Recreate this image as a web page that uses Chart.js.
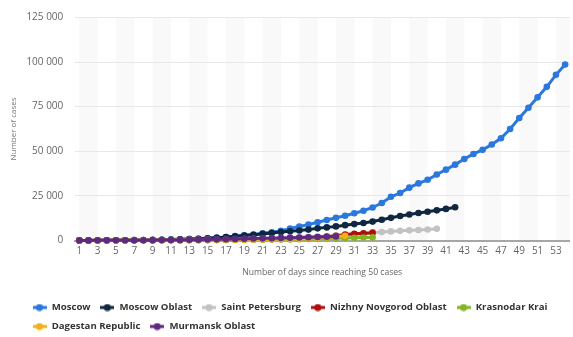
<!DOCTYPE html>
<html>
<head>
<meta charset="utf-8">
<title>Coronavirus cases in Russia by region</title>
<script src="https://cdn.jsdelivr.net/npm/chart.js@4.4.1/dist/chart.umd.min.js"></script>
<style>
  html, body { margin: 0; padding: 0; background: #fff; }
  #wrap { width: 573px; height: 337px; }
</style>
</head>
<body>
<div id="wrap"><canvas id="chart" width="573" height="337"></canvas></div>
<script>
// days since the region reached 50 cases
const days = [1, 2, 3, 4, 5, 6, 7, 8, 9, 10, 11, 12, 13, 14, 15, 16, 17, 18,
  19, 20, 21, 22, 23, 24, 25, 26, 27, 28, 29, 30, 31, 32, 33, 34, 35, 36,
  37, 38, 39, 40, 41, 42, 43, 44, 45, 46, 47, 48, 49, 50, 51, 52, 53, 54];

const yTicks = [0, 25000, 50000, 75000, 100000, 125000];

const moscow = [53, 63, 86, 98, 131, 137, 191, 262, 290, 410, 546, 703, 817,
  1014, 1226, 1613, 1880, 2475, 2900, 3400, 4000, 4600, 5400, 6700, 7800,
  8900, 10200, 11500, 12700, 13900, 15300, 16700, 18500, 21000, 24500, 26600,
  29600, 32000, 34000, 37000, 39700, 42500, 45700, 48500, 50800, 53800, 57300,
  62500, 68600, 74400, 80200, 86100, 92800, 98600];
const moscowOblast = [50, 60, 80, 100, 130, 160, 200, 260, 330, 420, 520, 650,
  800, 1000, 1250, 1550, 1900, 2300, 2750, 3200, 3700, 4200, 4700, 5200, 5600,
  6100, 6800, 7350, 7900, 8600, 9200, 9800, 10600, 11600, 12700, 13700, 14600,
  15400, 16100, 16900, 17700, 18600];
const saintPetersburg = [50, 60, 70, 80, 90, 100, 120, 140, 160, 180, 230, 300,
  380, 410, 470, 560, 600, 690, 780, 930, 1060, 1200, 1350, 1550, 1790, 1940,
  2200, 2480, 2720, 3000, 3300, 3550, 4300, 4700, 5100, 5400, 5700, 5900, 6200,
  6600];
const nizhnyNovgorod = [50, 55, 62, 70, 80, 92, 105, 120, 138, 158, 180, 205,
  235, 270, 310, 355, 405, 460, 525, 600, 690, 790, 900, 1020, 1200, 1450, 1750,
  2100, 2600, 3300, 3800, 4100, 4400];
const krasnodar = [50, 55, 60, 66, 73, 81, 90, 100, 112, 125, 140, 157, 176,
  198, 222, 250, 281, 316, 355, 400, 450, 505, 565, 630, 700, 800, 950, 1100,
  1300, 1450, 1550, 1650, 1750];
const dagestan = [50, 55, 62, 70, 80, 90, 100, 115, 130, 150, 170, 190, 215,
  240, 270, 300, 340, 380, 430, 480, 560, 650, 750, 870, 1000, 1200, 1450, 1750,
  2100, 2600];
const murmansk = [50, 60, 75, 90, 110, 130, 150, 180, 210, 250, 290, 340, 400,
  470, 550, 640, 740, 850, 960, 1080, 1200, 1330, 1460, 1590, 1720, 1850, 1980,
  2100, 2250];

const seriesNames = ['Moscow', 'Moscow Oblast', 'Saint Petersburg',
  'Nizhny Novgorod Oblast', 'Krasnodar Krai', 'Dagestan Republic', 'Murmansk Oblast'];
const seriesData = [moscow, moscowOblast, saintPetersburg, nizhnyNovgorod,
  krasnodar, dagestan, murmansk];
const colors = ['#2a78de', '#0f2740', '#c2c2c2', '#b20d0d', '#82b51f', '#f0b11c', '#5e2a80'];

const FONT = "'Open Sans', 'DejaVu Sans', sans-serif";

// small line + dot used as the legend symbol
const makeIcon = (color) => {
  const c = document.createElement('canvas');
  c.width = 14;
  c.height = 8;
  const g = c.getContext('2d');
  g.strokeStyle = color;
  g.lineWidth = 3;
  g.beginPath();
  g.moveTo(0, 4);
  g.lineTo(14, 4);
  g.stroke();
  g.fillStyle = color;
  g.beginPath();
  g.arc(7, 4, 3.6, 0, Math.PI * 2);
  g.fill();
  return c;
};
const icons = colors.map(makeIcon);

const fmt = (v) => String(v).replace(/\B(?=(\d{3})+(?!\d))/g, ' ');

// alternate light bands between every other labelled tick
const bands = {
  id: 'bands',
  beforeDraw(chart) {
    const {ctx, chartArea: a, scales: {x}} = chart;
    ctx.save();
    ctx.beginPath();
    ctx.rect(a.left, a.top, a.right - a.left, a.bottom - a.top);
    ctx.clip();
    ctx.fillStyle = '#f9f9f9';
    for (let i = 0; i < days.length; i += 4) {
      const x0 = x.getPixelForValue(i);
      const x1 = x.getPixelForValue(i + 2);
      ctx.fillRect(x0, a.top, x1 - x0, a.bottom - a.top);
    }
    ctx.restore();
  }
};

// legend sits further left than the chart area
const legendPlace = {
  id: 'legendPlace',
  afterLayout(chart) {
    chart.legend.left = 22.7;
    chart.legend.top = 293.3;
  }
};

const datasets = seriesNames.map((name, i) => ({
  label: name,
  data: seriesData[i],
  borderColor: colors[i],
  backgroundColor: colors[i],
  pointBackgroundColor: colors[i],
  borderWidth: 3,
  pointRadius: 3.3,
  pointHoverRadius: 3.3,
  pointBorderWidth: 0,
  tension: 0,
  clip: false,
  order: seriesNames.length - 1 - i
}));

new Chart(document.getElementById('chart'), {
  type: 'line',
  data: { labels: days, datasets: datasets },
  plugins: [bands, legendPlace],
  options: {
    responsive: false,
    animation: false,
    layout: { padding: { top: 10.5, right: 1.5, bottom: 0, left: 0 } },
    plugins: {
      tooltip: { enabled: false },
      legend: {
        position: 'bottom',
        align: 'start',
        labels: {
          usePointStyle: true,
          pointStyleWidth: 14.8,
          padding: 9.4,
          color: '#333',
          font: { family: FONT, size: 9.6, weight: 'bold' },
          generateLabels(chart) {
            const items = Chart.defaults.plugins.legend.labels.generateLabels(chart);
            items.forEach(it => { it.pointStyle = icons[it.datasetIndex]; });
            return items.sort((a, b) => a.datasetIndex - b.datasetIndex);
          }
        }
      }
    },
    scales: {
      x: {
        type: 'category',
        offset: true,
        grid: { display: false, drawTicks: false },
        border: { display: true, color: '#a6a6a6', width: 2 },
        ticks: {
          autoSkip: false,
          maxRotation: 0,
          padding: 4.5,
          color: '#666',
          font: { family: FONT, size: 10 },
          callback: (v, i) => (i % 2 === 0 ? days[i] : '')
        },
        title: {
          display: true,
          text: 'Number of days since reaching 50 cases',
          color: '#666',
          font: { family: FONT, size: 8.6 },
          padding: { top: 0, bottom: 11.5 }
        },
        afterFit: (s) => { s.height = 48.5; }
      },
      y: {
        min: 0,
        max: 125000,
        afterBuildTicks: (s) => { s.ticks = yTicks.map(v => ({ value: v })); },
        grid: { color: '#e8e8e8', drawTicks: false },
        border: { display: false },
        ticks: {
          padding: 11.4,
          color: '#666',
          font: { family: FONT, size: 10 },
          callback: (v) => fmt(v)
        },
        title: {
          display: true,
          text: 'Number of cases',
          color: '#777',
          font: { family: FONT, size: 8 },
          padding: { top: 9.2, bottom: 0 }
        },
        afterFit: (s) => { s.width = 74.7; }
      }
    }
  }
});
</script>
</body>
</html>
